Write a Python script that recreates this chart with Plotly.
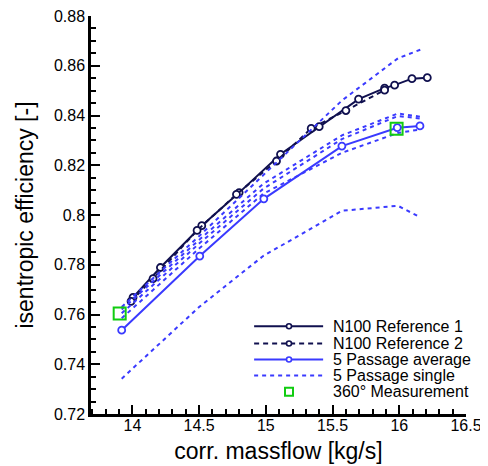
import plotly.graph_objects as go

# N100 reference runs
ref1_x = [14.005, 14.21, 14.52, 14.80, 15.11, 15.40, 15.695, 15.89, 15.965, 16.095, 16.21]
ref1_y = [0.7669, 0.7789, 0.7957, 0.8090, 0.8244, 0.8355, 0.8466, 0.8510, 0.8522, 0.8548, 0.8552]
ref2_x = [13.99, 14.155, 14.485, 14.78, 15.08, 15.34, 15.60, 15.89]
ref2_y = [0.7653, 0.7744, 0.7938, 0.8083, 0.8217, 0.8348, 0.8420, 0.8502]

# 5 passage results
avg_x = [13.92, 14.505, 14.985, 15.57, 15.985, 16.155]
avg_y = [0.7537, 0.7835, 0.8065, 0.8277, 0.8351, 0.8358]
single_x = [13.92, 14.50, 14.98, 15.57, 15.99, 16.16]
single_y = [
    [0.7630, 0.7915, 0.8160, 0.8460, 0.8630, 0.8665],
    [0.7620, 0.7900, 0.8125, 0.8320, 0.8408, 0.8395],
    [0.7605, 0.7885, 0.8105, 0.8305, 0.8398, 0.8388],
    [0.7585, 0.7865, 0.8085, 0.8250, 0.8330, 0.8344],
    [0.7342, 0.7630, 0.7835, 0.8017, 0.8037, 0.7990],
]

# 360 deg measurement
meas_x = [13.905, 15.98]
meas_y = [0.7604, 0.8347]

y_ticks = [0.72, 0.74, 0.76, 0.78, 0.80, 0.82, 0.84, 0.86, 0.88]
y_labels = ["0.72", "0.74", "0.76", "0.78", "0.8", "0.82", "0.84", "0.86", "0.88"]
x_ticks = [14, 14.5, 15, 15.5, 16, 16.5]
x_labels = ["14", "14.5", "15", "15.5", "16", "16.5"]

legend_names = ["N100 Reference 1", "N100 Reference 2", "5 Passage average",
                "5 Passage single", "360° Measurement"]

NAVY = "#10104f"
BLUE = "#3a3aff"
GREEN = "#11cc11"
FONT = "Liberation Sans, Arial, sans-serif"

fig = go.Figure()
circle = dict(symbol="circle", size=7, color="white", line=dict(width=1.8))

fig.add_trace(go.Scatter(
    x=ref1_x, y=ref1_y, mode="lines+markers", name=legend_names[0],
    line=dict(color=NAVY, width=2),
    marker=dict(circle, line=dict(color=NAVY, width=1.8)),
))
fig.add_trace(go.Scatter(
    x=ref2_x, y=ref2_y, mode="lines+markers", name=legend_names[1],
    line=dict(color=NAVY, width=2, dash="5px,4px"),
    marker=dict(circle, line=dict(color=NAVY, width=1.8)),
))
fig.add_trace(go.Scatter(
    x=avg_x, y=avg_y, mode="lines+markers", name=legend_names[2],
    line=dict(color=BLUE, width=2),
    marker=dict(circle, line=dict(color=BLUE, width=1.8)),
))
for ys in single_y:
    fig.add_trace(go.Scatter(
        x=single_x, y=ys, mode="lines", name=legend_names[3],
        line=dict(color=BLUE, width=2, dash="4px,4px"),
    ))
fig.add_trace(go.Scatter(
    x=meas_x, y=meas_y, mode="markers", name=legend_names[4],
    marker=dict(symbol="square-open", size=12, color=GREEN, line=dict(width=2)),
))

# hand-drawn legend (compact rows like the original)
leg_x0, leg_x1, leg_mid, leg_text = 0.435, 0.619, 0.528, 0.640
leg_rows = [0.2206, 0.1772, 0.1371, 0.0970, 0.0559]
leg_style = [(NAVY, "solid", True), (NAVY, "5px,4px", True), (BLUE, "solid", True),
             (BLUE, "4px,4px", False), (None, None, False)]
for name, yy, (col, dash, mk) in zip(legend_names, leg_rows, leg_style):
    if col is not None:
        fig.add_shape(type="line", xref="paper", yref="paper", x0=leg_x0, x1=leg_x1, y0=yy, y1=yy,
                      line=dict(color=col, width=2, dash=dash))
    if mk:
        fig.add_shape(type="circle", xref="paper", yref="paper", xsizemode="pixel", ysizemode="pixel",
                      xanchor=leg_mid, yanchor=yy, x0=-2.5, x1=2.5, y0=-2.5, y1=2.5,
                      fillcolor="white", line=dict(color=col, width=1.6))
    if col is None:
        fig.add_shape(type="rect", xref="paper", yref="paper", xsizemode="pixel", ysizemode="pixel",
                      xanchor=leg_mid, yanchor=yy, x0=-4, x1=4, y0=-4, y1=4,
                      line=dict(color=GREEN, width=2))
    fig.add_annotation(x=leg_text, y=yy, xref="paper", yref="paper", text=name,
                       showarrow=False, xanchor="left", yanchor="middle",
                       font=dict(family=FONT, size=16, color="black"))

# page body has an 8px margin, so the figure is sized to fit inside the window
fig.update_layout(
    width=480, height=458,
    paper_bgcolor="white", plot_bgcolor="white",
    margin=dict(l=83, r=22, t=8, b=52, autoexpand=False),
    font=dict(family=FONT, size=16, color="black"),
    showlegend=False,
    xaxis=dict(
        range=[13.69, 16.5], tickvals=x_ticks, ticktext=x_labels,
        ticks="inside", ticklen=9, tickwidth=2, tickcolor="black",
        ticklabeloverflow="allow", ticklabelstandoff=-5,
        showline=True, linecolor="black", linewidth=2.5, showgrid=False, zeroline=False,
        minor=dict(dtick=0.1, tick0=14, ticks="inside", ticklen=5, tickwidth=1.5, tickcolor="black", showgrid=False),
        title=dict(text="corr. massflow [kg/s]", font=dict(size=23), standoff=10),
    ),
    yaxis=dict(
        range=[0.72, 0.88], tickvals=y_ticks, ticktext=y_labels,
        ticks="inside", ticklen=9, tickwidth=2, tickcolor="black",
        ticklabeloverflow="allow",
        showline=True, linecolor="black", linewidth=2.5, showgrid=False, zeroline=False,
        minor=dict(dtick=0.005, tick0=0.72, ticks="inside", ticklen=5, tickwidth=1.5, tickcolor="black", showgrid=False),
        title=dict(text="isentropic efficiency [-]", font=dict(size=23), standoff=14),
    ),
)

fig.write_html("out.html")
